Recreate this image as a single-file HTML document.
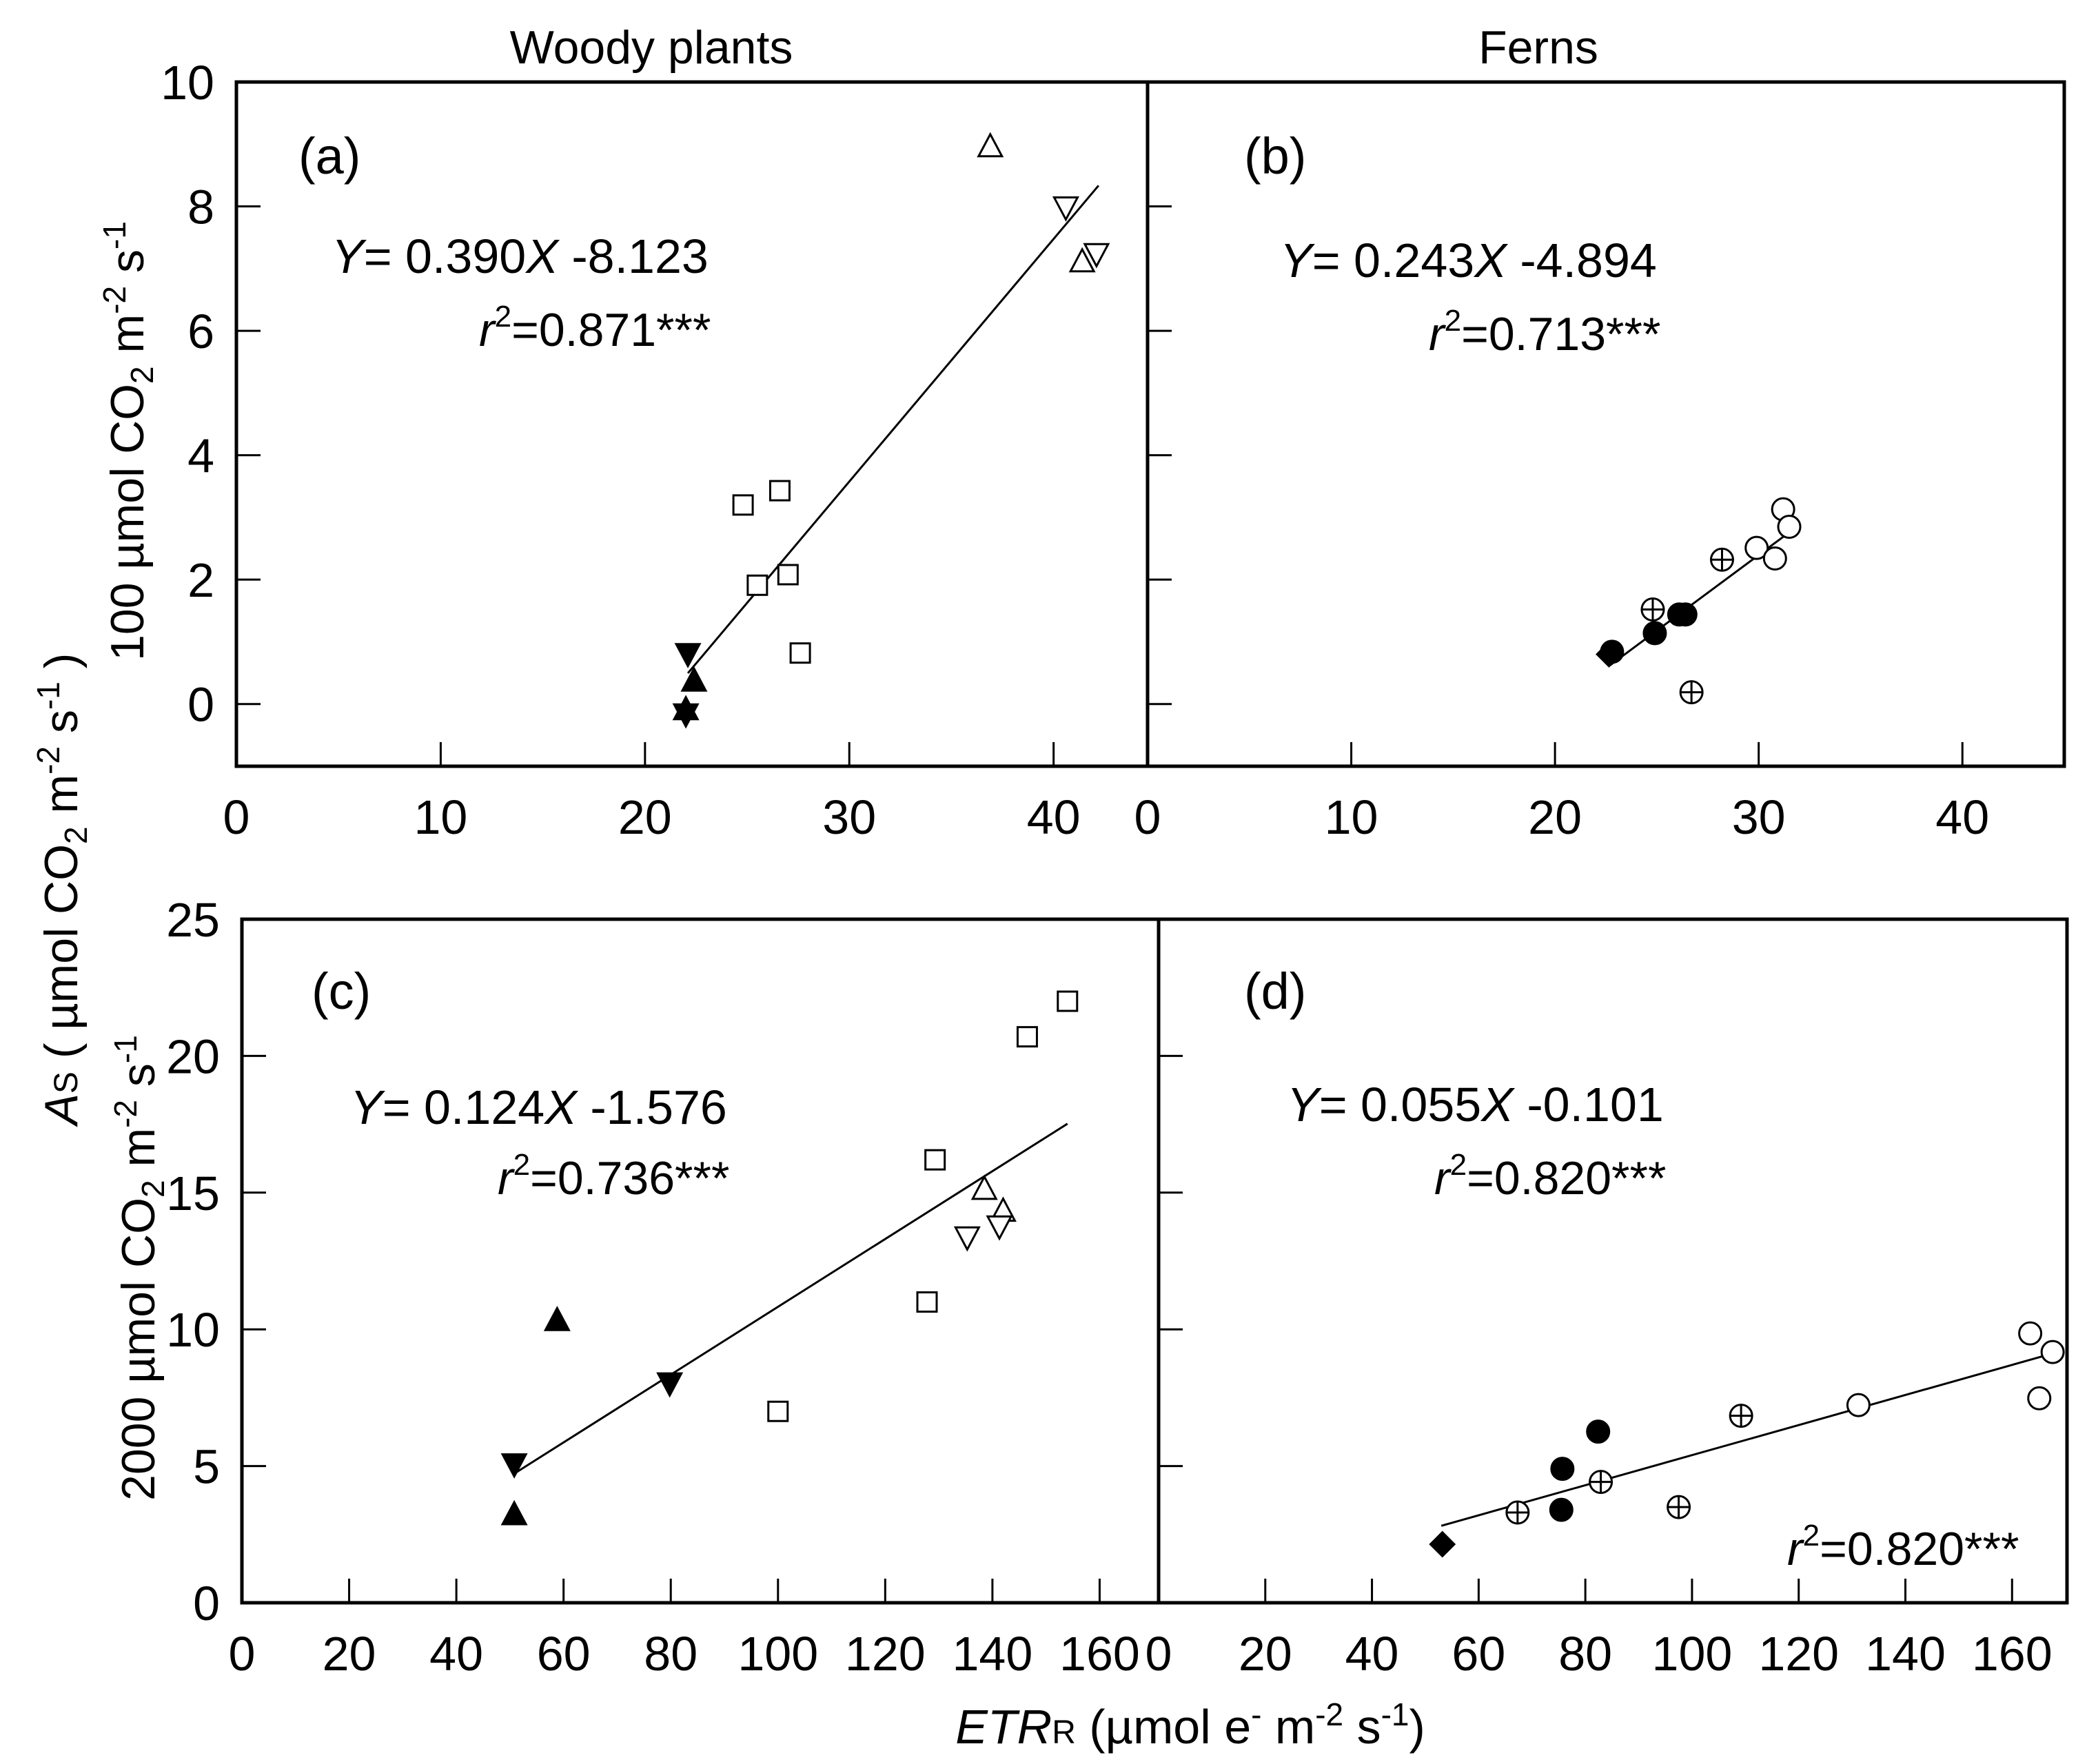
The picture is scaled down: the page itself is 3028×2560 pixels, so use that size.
<!DOCTYPE html>
<html><head><meta charset="utf-8">
<style>
html,body{margin:0;padding:0;background:#fff;}
svg{display:block;font-family:"Liberation Sans",Arial,sans-serif;}
</style></head>
<body>
<svg id="fig" width="3028" height="2560" viewBox="0 0 3028 2560" xmlns="http://www.w3.org/2000/svg">
<rect x="0" y="0" width="3028" height="2560" fill="#fff"/>
<text x="945" y="92" font-size="68" text-anchor="middle">Woody plants</text>
<text x="2232" y="92" font-size="68" text-anchor="middle">Ferns</text>
<text transform="translate(112,1290) rotate(-90)" font-size="68" text-anchor="middle"><tspan font-style="italic">A</tspan><tspan font-size="48">S</tspan> ( µmol CO<tspan font-size="46" dy="14">2</tspan><tspan dy="-14"> m</tspan><tspan font-size="46" dy="-26">-2</tspan><tspan dy="26"> s</tspan><tspan font-size="46" dy="-26">-1</tspan><tspan dy="26"> )</tspan></text>
<text transform="translate(208,640) rotate(-90)" font-size="68" text-anchor="middle">100 µmol CO<tspan font-size="46" dy="14">2</tspan><tspan dy="-14"> m</tspan><tspan font-size="46" dy="-26">-2</tspan><tspan dy="26"> s</tspan><tspan font-size="46" dy="-26">-1</tspan></text>
<text transform="translate(224,1840) rotate(-90)" font-size="68" text-anchor="middle">2000 µmol CO<tspan font-size="46" dy="14">2</tspan><tspan dy="-14"> m</tspan><tspan font-size="46" dy="-26">-2</tspan><tspan dy="26"> s</tspan><tspan font-size="46" dy="-26">-1</tspan></text>
<text x="1727" y="2530" font-size="70" text-anchor="middle"><tspan font-style="italic">ETR</tspan><tspan font-size="48">R</tspan>  (µmol e<tspan font-size="46" dy="-26">-</tspan><tspan dy="26"> m</tspan><tspan font-size="46" dy="-26">-2</tspan><tspan dy="26"> s</tspan><tspan font-size="46" dy="-26">-1</tspan><tspan dy="26">)</tspan></text>
<g id="plots"></g>
</svg>
<script>
// Panel (a) woody plants, ETR at 100 µmol
const aOpenUpX=[36.9,41.4], aOpenUpY=[8.95,7.1];
const aOpenDnX=[40.6,42.1], aOpenDnY=[8.0,7.25];
const aSquareX=[24.8,26.6,25.5,27.0,27.6], aSquareY=[3.2,3.43,1.91,2.08,0.82];
const aFillUpX=[22.4,22.0], aFillUpY=[0.36,-0.1];
const aFillDnX=[22.1,22.0], aFillDnY=[0.82,-0.15];
const aFit=[0.390,-8.123], aFitRange=[22.1,42.2];
// Panel (b) ferns
const bOpenCircX=[31.2,31.5,29.9,30.8], bOpenCircY=[3.13,2.85,2.51,2.34];
const bCrossX=[28.2,24.8,26.7], bCrossY=[2.32,1.52,0.19];
const bFillCircX=[26.1,26.4,24.9,22.8], bFillCircY=[1.44,1.44,1.14,0.84];
const bDiamX=[22.65], bDiamY=[0.8];
const bFit=[0.243,-4.894], bFitRange=[22.7,31.5];
// Panel (c) woody plants, 2000 µmol
const cSquareX=[154,146.5,129.3,127.8,100], cSquareY=[22.0,20.7,16.2,11.0,7.0];
const cOpenUpX=[138.5,142], cOpenUpY=[15.1,14.3];
const cOpenDnX=[135.3,141.3], cOpenDnY=[13.4,13.8];
const cFillUpX=[58.8,50.8], cFillUpY=[10.3,3.2];
const cFillDnX=[79.8,50.8], cFillDnY=[8.06,5.1];
const cFit=[0.124,-1.576], cFitRange=[50.8,154];
// Panel (d) ferns
const dOpenCircX=[163.4,167.6,165.1,131.2], dOpenCircY=[9.85,9.17,7.48,7.23];
const dCrossX=[109.2,82.9,97.5,67.3], dCrossY=[6.84,4.42,3.5,3.3];
const dFillCircX=[82.4,75.7,75.5], dFillCircY=[6.26,4.9,3.4];
const dDiamX=[53.2], dDiamY=[2.14];
const dFit=[0.055,-0.101], dFitRange=[53,168];
// tick labels
const xTicksTop=[0,10,20,30,40];
const yTicksTop=[0,2,4,6,8,10];
const xTicksBot=[0,20,40,60,80,100,120,140,160];
const yTicksBot=[0,5,10,15,20,25];

const NS="http://www.w3.org/2000/svg";
const root=document.getElementById('plots');
function mk(tag,attrs,parent){const e=document.createElementNS(NS,tag);for(const k in attrs)e.setAttribute(k,attrs[k]);(parent||root).appendChild(e);return e;}

function panel(cfg){
  const g=mk('g',{});
  
  
  const sx=v=>cfg.x0+(v-cfg.xmin)/(cfg.xmax-cfg.xmin)*(cfg.x1-cfg.x0);
  const sy=v=>cfg.y1-(v-cfg.ymin)/(cfg.ymax-cfg.ymin)*(cfg.y1-cfg.y0);
  const fr=mk('rect',{x:cfg.x0,y:cfg.y0,width:cfg.x1-cfg.x0,height:cfg.y1-cfg.y0,fill:'none',stroke:'#000','stroke-width':5},g);
  
  
  cfg.xt.forEach(t=>{
    const X=sx(t);
    if(t>cfg.xmin&&t<cfg.xmax){const l=mk('line',{x1:X,x2:X,y1:cfg.y1,y2:cfg.y1-35,stroke:'#000','stroke-width':3},g);
    
    }
    const tx=mk('text',{x:X,y:cfg.y1+98,'font-size':70,'text-anchor':'middle'},g);
    tx.textContent=t;
    
    
  });
  cfg.yt.forEach(t=>{
    const Y=sy(t);
    if(t>cfg.ymin&&t<cfg.ymax){const l=mk('line',{x1:cfg.x0,x2:cfg.x0+35,y1:Y,y2:Y,stroke:'#000','stroke-width':3},g);
    
    }
    if(cfg.ylab){const tx=mk('text',{x:cfg.x0-32,y:Y+25,'font-size':70,'text-anchor':'end'},g);
    tx.textContent=t;
    
    }
  });
  const fl=mk('line',{x1:sx(cfg.fr[0]),y1:sy(cfg.fit[0]*cfg.fr[0]+cfg.fit[1]),x2:sx(cfg.fr[1]),y2:sy(cfg.fit[0]*cfg.fr[1]+cfg.fit[1]),stroke:'#000','stroke-width':3},g);
  
  
  cfg.series.forEach(s=>{
    s.xs.forEach((xv,i)=>{
      const X=sx(xv),Y=sy(s.ys[i]);let m;
      const fill=s.filled?'#000':'#fff';
      if(s.type==='square'){m=mk('rect',{x:X-14,y:Y-14,width:28,height:28,fill:'#fff',stroke:'#000','stroke-width':3},g);}
      else if(s.type==='up'){m=mk('polygon',{points:`${X},${Y-19} ${X-17},${Y+13} ${X+17},${Y+13}`,fill:fill,stroke:'#000','stroke-width':3},g);}
      else if(s.type==='down'){m=mk('polygon',{points:`${X},${Y+19} ${X-17},${Y-13} ${X+17},${Y-13}`,fill:fill,stroke:'#000','stroke-width':3},g);}
      else if(s.type==='circle'){m=mk('circle',{cx:X,cy:Y,r:16,fill:fill,stroke:'#000','stroke-width':3},g);}
      else if(s.type==='diamond'){m=mk('polygon',{points:`${X},${Y-18} ${X+18},${Y} ${X},${Y+18} ${X-18},${Y}`,fill:'#000',stroke:'#000','stroke-width':2},g);}
      else if(s.type==='cross'){m=mk('g',{},g);
        mk('circle',{cx:X,cy:Y,r:16,fill:'#fff',stroke:'#000','stroke-width':3},m);
        mk('line',{x1:X-16,x2:X+16,y1:Y,y2:Y,stroke:'#000','stroke-width':3},m);
        mk('line',{x1:X,x2:X,y1:Y-16,y2:Y+16,stroke:'#000','stroke-width':3},m);}
      
      
    });
  });
  return g;
}
panel({id:'a',x0:343,x1:1665,y0:119,y1:1112,xmin:0,xmax:44.6,ymin:-1,ymax:10,xt:xTicksTop,yt:yTicksTop,ylab:true,fit:aFit,fr:aFitRange,
  series:[{type:'square',xs:aSquareX,ys:aSquareY,name:'square'},{type:'up',xs:aOpenUpX,ys:aOpenUpY,name:'open-triangle'},{type:'down',xs:aOpenDnX,ys:aOpenDnY,name:'open-inverted-triangle'},{type:'up',filled:true,xs:aFillUpX,ys:aFillUpY,name:'filled-triangle'},{type:'down',filled:true,xs:aFillDnX,ys:aFillDnY,name:'filled-inverted-triangle'}]});
panel({id:'b',x0:1665,x1:2995,y0:119,y1:1112,xmin:0,xmax:45,ymin:-1,ymax:10,xt:xTicksTop,yt:yTicksTop,ylab:false,fit:bFit,fr:bFitRange,
  series:[{type:'circle',xs:bOpenCircX,ys:bOpenCircY,name:'open-circle'},{type:'cross',xs:bCrossX,ys:bCrossY,name:'crossed-circle'},{type:'diamond',xs:bDiamX,ys:bDiamY,name:'filled-diamond'},{type:'circle',filled:true,xs:bFillCircX,ys:bFillCircY,name:'filled-circle'}]});
panel({id:'c',x0:351,x1:1681,y0:1334,y1:2326,xmin:0,xmax:171,ymin:0,ymax:25,xt:xTicksBot,yt:yTicksBot,ylab:true,fit:cFit,fr:cFitRange,
  series:[{type:'square',xs:cSquareX,ys:cSquareY,name:'square'},{type:'up',xs:cOpenUpX,ys:cOpenUpY,name:'open-triangle'},{type:'down',xs:cOpenDnX,ys:cOpenDnY,name:'open-inverted-triangle'},{type:'up',filled:true,xs:cFillUpX,ys:cFillUpY,name:'filled-triangle'},{type:'down',filled:true,xs:cFillDnX,ys:cFillDnY,name:'filled-inverted-triangle'}]});
panel({id:'d',x0:1681,x1:2999,y0:1334,y1:2326,xmin:0,xmax:170.3,ymin:0,ymax:25,xt:xTicksBot,yt:yTicksBot,ylab:false,fit:dFit,fr:dFitRange,
  series:[{type:'circle',xs:dOpenCircX,ys:dOpenCircY,name:'open-circle'},{type:'cross',xs:dCrossX,ys:dCrossY,name:'crossed-circle'},{type:'diamond',xs:dDiamX,ys:dDiamY,name:'filled-diamond'},{type:'circle',filled:true,xs:dFillCircX,ys:dFillCircY,name:'filled-circle'}]});

// annotations
const ann=[
 ['panel-label-a',433,252,'(a)'],['panel-label-b',1805,252,'(b)'],['panel-label-c',452,1464,'(c)'],['panel-label-d',1805,1464,'(d)']
];
ann.forEach(a=>{const t=mk('text',{x:a[1],y:a[2],'font-size':74});t.textContent=a[3];

});
function eq(name,x,y,slope,icpt){const t=mk('text',{x:x,y:y,'font-size':70});
t.innerHTML='<tspan font-style="italic">Y</tspan>= '+slope+'<tspan font-style="italic">X</tspan> '+icpt;

}
function r2(name,x,y,v){const t=mk('text',{x:x,y:y,'font-size':68});
t.innerHTML='<tspan font-style="italic">r</tspan><tspan font-size="44" dy="-28">2</tspan><tspan dy="28">='+v+'***</tspan>';

}
eq('equation-a',481,396,'0.390','-8.123'); r2('r-squared-a',695,502,'0.871');
eq('equation-b',1857,402,'0.243','-4.894'); r2('r-squared-b',2073,508,'0.713');
eq('equation-c',508,1631,'0.124','-1.576'); r2('r-squared-c',722,1733,'0.736');
eq('equation-d',1867,1627,'0.055','-0.101'); r2('r-squared-d',2081,1733,'0.820');
r2('r-squared-d-lower',2593,2271,'0.820');
</script>
</body></html>
